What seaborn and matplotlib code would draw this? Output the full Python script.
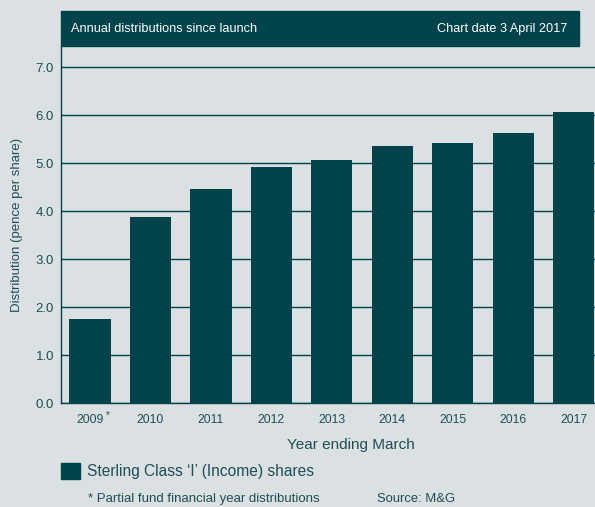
import numpy as np
import pandas as pd
import matplotlib
matplotlib.use('Agg')
import matplotlib.pyplot as plt
import seaborn as sns
from matplotlib.patches import Rectangle, Patch
from matplotlib.ticker import FixedLocator

# data
YEARS = ['2009', '2010', '2011', '2012', '2013', '2014', '2015', '2016', '2017']
DISTRIBUTION = [1.75, 3.87, 4.45, 4.92, 5.06, 5.36, 5.42, 5.62, 6.06]
Y_TICKS = [0.0, 1.0, 2.0, 3.0, 4.0, 5.0, 6.0, 7.0]

TEAL = '#00434a'
TEXT = '#1d4f55'
BG = '#dbe0e3'

sns.set_theme(style='white')
plt.rcParams['font.family'] = ['Liberation Sans', 'DejaVu Sans']

df = pd.DataFrame({'year': YEARS, 'value': DISTRIBUTION})

fig = plt.figure(figsize=(5.95, 5.07), dpi=100, facecolor=BG)
ax = fig.add_axes([61 / 595, 1 - 403 / 507, 1 - 61 / 595, (403 - 46) / 507])
ax.set_facecolor(BG)

sns.barplot(data=df, x='year', y='value', color=TEAL, width=0.68,
            saturation=1, linewidth=0, ax=ax, zorder=3)

ax.set_ylim(0, 7.44)
ax.set_xlim(-0.48, 8.35)
ax.set_yticks(Y_TICKS)
ax.set_yticklabels([f'{t:.1f}' for t in Y_TICKS], fontsize=9.5, color=TEXT)
ax.yaxis.grid(True, color=TEAL, lw=1)
ax.set_axisbelow(True)

ax.set_xticks(range(len(YEARS)))
ax.set_xticklabels(YEARS, fontsize=8.8, color=TEXT)
ax.xaxis.set_minor_locator(FixedLocator(np.arange(len(YEARS)) + 0.5))
ax.tick_params(axis='x', which='major', length=0, pad=8)
ax.tick_params(axis='x', which='minor', direction='in', length=5, color=TEAL, width=1)
ax.tick_params(axis='y', length=0, pad=5)

# asterisk on the partial first year
ax.annotate('*', xy=(0, 0), xycoords=('data', 'axes fraction'), xytext=(13, -9),
            textcoords='offset points', fontsize=7, color=TEXT, ha='center', va='center')

for s in ['top', 'right']:
    ax.spines[s].set_visible(False)
for s in ['left', 'bottom']:
    ax.spines[s].set_color(TEAL)
    ax.spines[s].set_linewidth(1)

ax.set_xlabel('Year ending March', fontsize=11, color=TEXT)
ax.xaxis.set_label_coords((351 - 61) / 534, -0.097)
ax.set_ylabel('Distribution (pence per share)', fontsize=9.5, color=TEXT, labelpad=9)

# header band
fig.patches.append(Rectangle((61 / 595, 1 - 46 / 507), 518 / 595, 35 / 507,
                             transform=fig.transFigure, color=TEAL, zorder=0))
fig.text(71 / 595, 1 - 29 / 507, 'Annual distributions since launch',
         color='white', fontsize=9.15, va='center', ha='left')
fig.text(567 / 595, 1 - 29 / 507, 'Chart date 3 April 2017',
         color='white', fontsize=9.15, va='center', ha='right')

# legend and footnote
fig.legend(handles=[Patch(color=TEAL, label='Sterling Class \u2018I\u2019 (Income) shares')],
           loc='center left', bbox_to_anchor=(47 / 595, 1 - 471 / 507), frameon=False,
           handlelength=1.25, handleheight=1.25, handletextpad=0.45,
           fontsize=11.2, labelcolor=TEXT)
fig.text(88 / 595, 1 - 499 / 507, '* Partial fund financial year distributions',
         fontsize=9.5, color=TEXT, va='center')
fig.text(377 / 595, 1 - 499 / 507, 'Source: M&G', fontsize=9.4, color=TEXT, va='center')

fig.savefig('out.png', dpi=100, facecolor=BG)
